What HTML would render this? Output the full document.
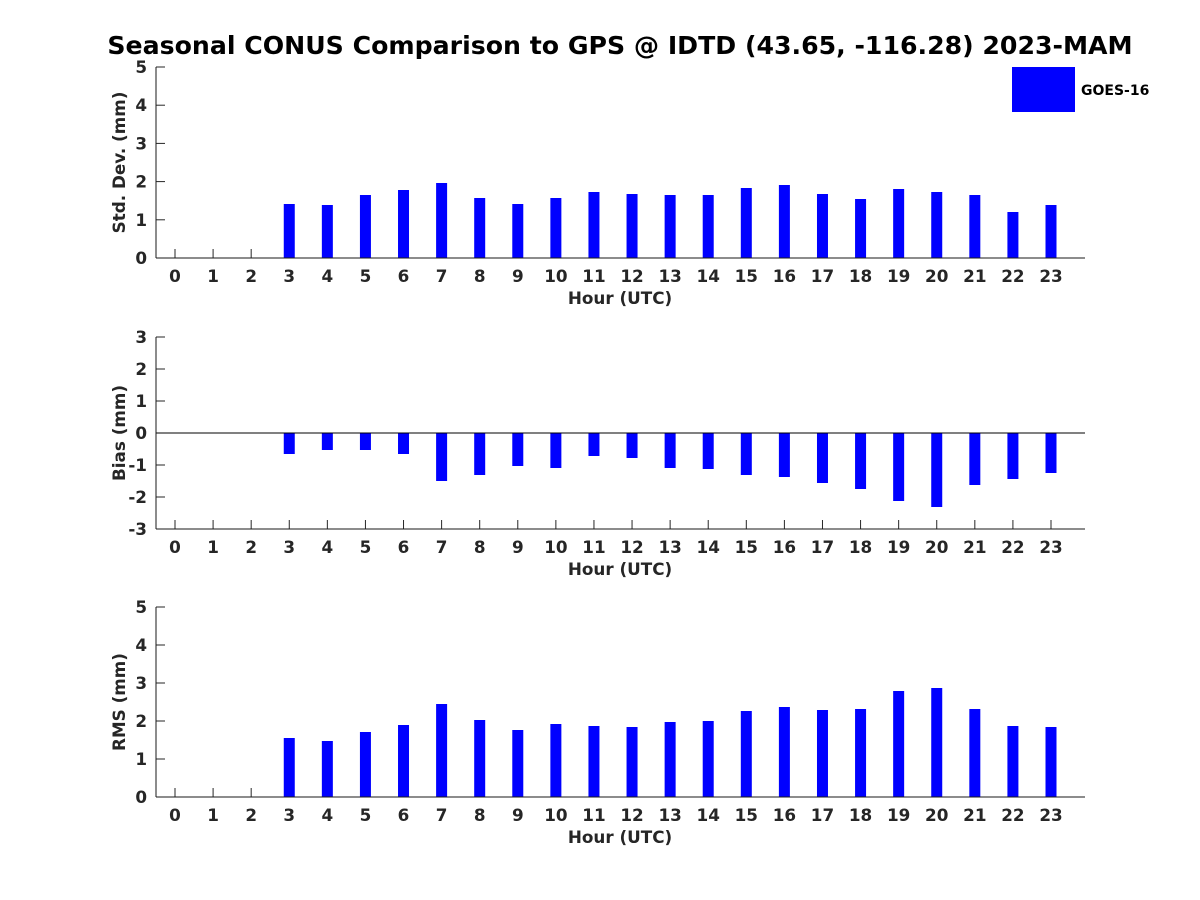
<!DOCTYPE html>
<html><head><meta charset="utf-8"><style>html,body{margin:0;padding:0;background:#fff}svg{display:block}text{font-family:"DejaVu Sans","Liberation Sans",sans-serif;font-weight:bold;fill:#262626}</style></head>
<body>
<svg id="s" width="1200" height="900" xmlns="http://www.w3.org/2000/svg">
<text x="620" y="54" font-size="25.2" text-anchor="middle" style="fill:#000">Seasonal CONUS Comparison to GPS @ IDTD (43.65, -116.28) 2023-MAM</text>
<rect x="1012" y="67" width="63" height="45" fill="#0000ff"/>
<text x="1081" y="95" font-size="14" style="fill:#000">GOES-16</text>
</svg>
<script>
const s=document.getElementById('s');const NS='http://www.w3.org/2000/svg';
function el(t,a,txt){const e=document.createElementNS(NS,t);for(const k in a)e.setAttribute(k,a[k]);if(txt!==undefined)e.textContent=txt;s.appendChild(e);return e;}
const X=h=>175+h*876/23;
function panel(top,bot,ymin,ymax,zeroY,label,bars){
  const L=156,R=1085,ppu=(bot-top)/(ymax-ymin);
  for(let v=ymin;v<=ymax;v++){const y=bot-(v-ymin)*ppu;
    el('line',{x1:L,x2:L+9,y1:y,y2:y,stroke:'#262626','stroke-width':1});
    el('text',{x:147,y:y+6,'font-size':16.8,'text-anchor':'end'},String(v));}
  for(let h=0;h<24;h++){el('line',{x1:X(h),x2:X(h),y1:bot,y2:bot-9,stroke:'#262626','stroke-width':1});
    el('text',{x:X(h),y:bot+24,'font-size':16.8,'text-anchor':'middle'},String(h));}
  bars.forEach((v,i)=>{const h=i+3;const y1=Math.min(zeroY,v),y2=Math.max(zeroY,v);
    el('rect',{x:X(h)-5.5,y:y1,width:11,height:y2-y1,fill:'#0000ff'});});
  if(zeroY!==bot)el('line',{x1:L,x2:R,y1:zeroY,y2:zeroY,stroke:'#000','stroke-width':1});
  el('line',{x1:L,x2:R,y1:bot,y2:bot,stroke:'#1a1a1a','stroke-width':1});
  el('line',{x1:L,x2:L,y1:top,y2:bot,stroke:'#1a1a1a','stroke-width':1});
  el('text',{x:620,y:bot+46,'font-size':16.8,'text-anchor':'middle'},'Hour (UTC)');
  const cy=(top+bot)/2;el('text',{x:0,y:0,'font-size':16.8,'text-anchor':'middle',transform:`translate(125,${cy}) rotate(-90)`},label);
}
panel(67,258,0,5,258,'Std. Dev. (mm)',[204,205,195,190,183,198,204,198,192,194,195,195,188,185,194,199,189,192,195,212,205]);
panel(337,529,-3,3,433,'Bias (mm)',[454,450,450,454,481,475,466,468,456,458,468,469,475,477,483,489,501,507,485,479,473]);
panel(607,797,0,5,797,'RMS (mm)',[738,741,732,725,704,720,730,724,726,727,722,721,711,707,710,709,691,688,709,726,727]);
</script>
</body></html>
